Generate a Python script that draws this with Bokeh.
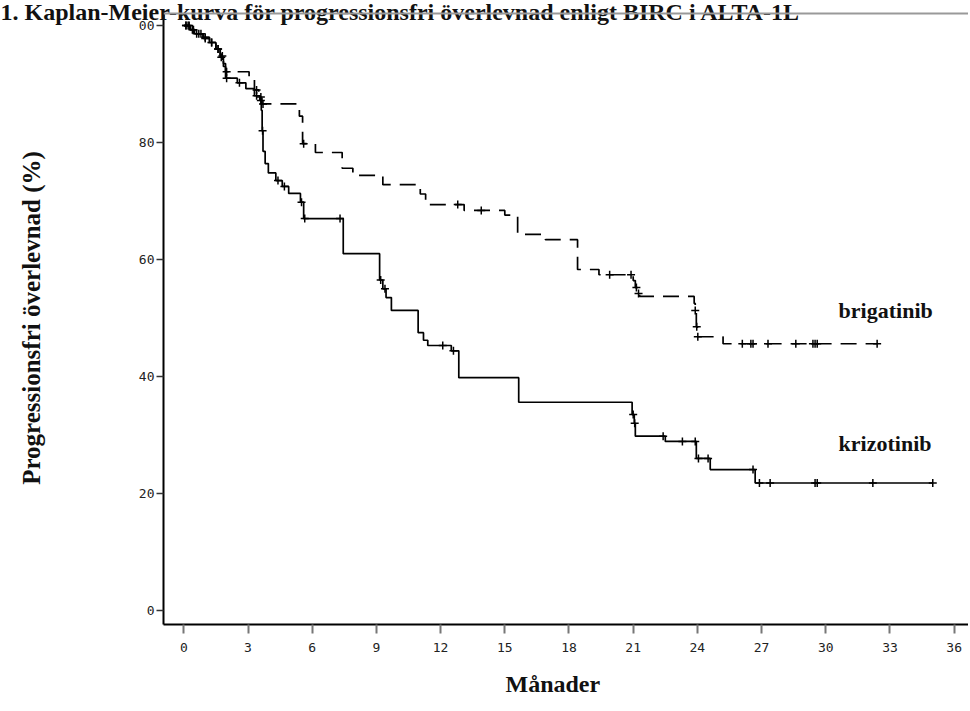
import numpy as np
from bokeh.plotting import figure
from bokeh.models import Range1d, Label, Span, FixedTicker, Title
from bokeh.embed import file_html
from bokeh.resources import INLINE

# ---- data (months, survival %) ----
brig_t = [0, 0.3, 0.5, 0.9, 1.2, 1.5, 1.7, 1.85, 1.95, 3.05, 3.3, 3.5, 3.65, 5.4, 5.55, 6.15,
          7.4, 7.9, 9.3, 11.05, 11.3, 13.1, 15.0, 15.6, 16.9, 18.4, 19.4, 21.0, 21.1, 21.2,
          21.3, 23.85, 23.9, 23.95, 24.0, 25.2, 32.4]
brig_s = [100, 99.3, 98.6, 98.0, 97.1, 96.0, 94.8, 93.5, 92.1, 90.8, 89.0, 87.8, 86.6, 84.5,
          79.8, 78.3, 75.6, 74.4, 72.8, 71.2, 69.4, 68.4, 67.6, 64.3, 63.4, 58.3, 57.4, 56.4,
          55.2, 54.2, 53.7, 52.5, 51.3, 48.5, 46.8, 45.6, 45.6]
brig_cens = [0.1, 0.2, 0.4, 0.6, 0.8, 1.0, 1.3, 1.6, 1.8, 2.0, 3.4, 3.6, 3.7, 5.6, 12.8, 13.9,
             19.9, 20.9, 21.15, 21.25, 23.9, 23.97, 24.02, 26.1, 26.5, 26.6, 27.3, 28.6, 29.4,
             29.5, 29.6, 32.4]

kriz_t = [0, 0.3, 0.5, 0.9, 1.2, 1.5, 1.7, 1.85, 1.95, 2.5, 2.9, 3.3, 3.55, 3.62, 3.66, 3.7,
          3.8, 3.95, 4.3, 4.6, 4.9, 5.45, 5.6, 7.45, 9.15, 9.3, 9.45, 9.7, 10.95, 11.2, 11.4,
          12.5, 12.85, 15.65, 20.95, 21.05, 21.1, 22.5, 23.95, 24.6, 26.7, 35.0]
kriz_s = [100, 99.3, 98.6, 97.8, 97.1, 96.0, 94.6, 93.0, 91.0, 90.2, 89.2, 88.0, 87.2, 85.5,
          82.0, 78.5, 76.4, 74.8, 73.5, 72.5, 71.3, 69.8, 67.0, 61.0, 56.5, 55.0, 53.5, 51.3,
          47.5, 46.2, 45.3, 44.4, 39.8, 35.6, 33.5, 32.0, 29.8, 28.9, 26.0, 24.1, 21.8, 21.8]
kriz_cens = [0.1, 0.25, 0.45, 0.7, 1.0, 1.3, 1.6, 1.75, 2.0, 2.6, 3.4, 3.6, 3.68, 4.4, 4.7,
             5.5, 5.65, 7.3, 9.2, 9.4, 12.1, 12.6, 21.0, 21.07, 22.4, 23.3, 23.9, 24.05, 24.5,
             26.6, 26.9, 27.4, 29.5, 29.6, 32.2, 35.0]

x_ticks = [0, 3, 6, 9, 12, 15, 18, 21, 24, 27, 30, 33, 36]
y_ticks = [0, 20, 40, 60, 80, 100]
y_tick_text = {100: "00"}

title_text = "1. Kaplan-Meier-kurva för progressionsfri överlevnad enligt BIRC i ALTA-1L"
x_title = "Månader"
y_title = "Progressionsfri överlevnad (%)"
arm_names = ["brigatinib", "krizotinib"]


def surv_at(times, t, s):
    idx = np.searchsorted(np.asarray(t), np.asarray(times), side="right") - 1
    return np.asarray(s)[idx]


serif = "Liberation Serif"

p = figure(width=968, height=711,
           x_range=Range1d(-0.95, 36.67), y_range=Range1d(-2.39, 102.4),
           output_backend="svg", toolbar_location=None,
           min_border_left=163, min_border_right=0, min_border_top=11, min_border_bottom=87)
p.grid.visible = False
p.outline_line_color = None
p.background_fill_color = "white"
p.border_fill_color = "white"

p.add_layout(Title(text=title_text, text_font=serif, text_font_style="bold",
                   text_font_size="24px", align="left", offset=-163, standoff=-27,
                   text_color="#111111"), "above")

for ax in (p.xaxis[0], p.yaxis[0]):
    ax.axis_line_color = "black"
    ax.axis_line_width = 2
    ax.minor_tick_line_color = None
    ax.major_tick_in = 0
    ax.major_label_text_font = "DejaVu Sans Mono"
    ax.major_label_text_font_size = "13px"
    ax.major_label_text_color = "#222222"
    ax.axis_label_text_font = serif
    ax.axis_label_text_font_style = "bold"
    ax.axis_label_text_font_size = "25px"
    ax.axis_label_text_color = "#111111"

p.xaxis.ticker = FixedTicker(ticks=x_ticks)
p.xaxis.major_tick_out = 9
p.xaxis.major_tick_line_color = "#777777"
p.xaxis.major_tick_line_width = 2
p.xaxis.major_label_standoff = 9

p.add_layout(Title(text=x_title, text_font=serif, text_font_style="bold",
                   text_font_size="24px", align="left", offset=342, standoff=29,
                   text_color="#111111"), "below")

p.yaxis.ticker = FixedTicker(ticks=y_ticks)
p.yaxis.major_label_overrides = y_tick_text
p.yaxis.major_tick_out = 7
p.yaxis.major_tick_line_color = "#333333"
p.yaxis.major_tick_line_width = 1.5
p.yaxis.major_label_standoff = 2
p.yaxis.axis_label = y_title
p.yaxis.axis_label_standoff = 91

p.add_layout(Span(location=102.05, dimension="width", line_color="#999999", line_width=2))

# curves
p.step(brig_t, brig_s, mode="after", line_color="black", line_width=1.7, line_dash="16 9")
p.step(kriz_t, kriz_s, mode="after", line_color="black", line_width=1.7)

# censor marks
p.scatter(brig_cens, surv_at(brig_cens, brig_t, brig_s), marker="cross", size=8,
          line_color="black", line_width=1.5)
p.scatter(kriz_cens, surv_at(kriz_cens, kriz_t, kriz_s), marker="cross", size=8,
          line_color="black", line_width=1.5)

p.add_layout(Label(x=30.6, y=51.3, text=arm_names[0], text_font=serif, text_font_style="bold",
                   text_font_size="22px", text_baseline="middle", text_color="#111111"))
p.add_layout(Label(x=30.6, y=28.5, text=arm_names[1], text_font=serif, text_font_style="bold",
                   text_font_size="22px", text_baseline="middle", text_color="#111111"))

open("out.html", "w").write(file_html(p, INLINE))
